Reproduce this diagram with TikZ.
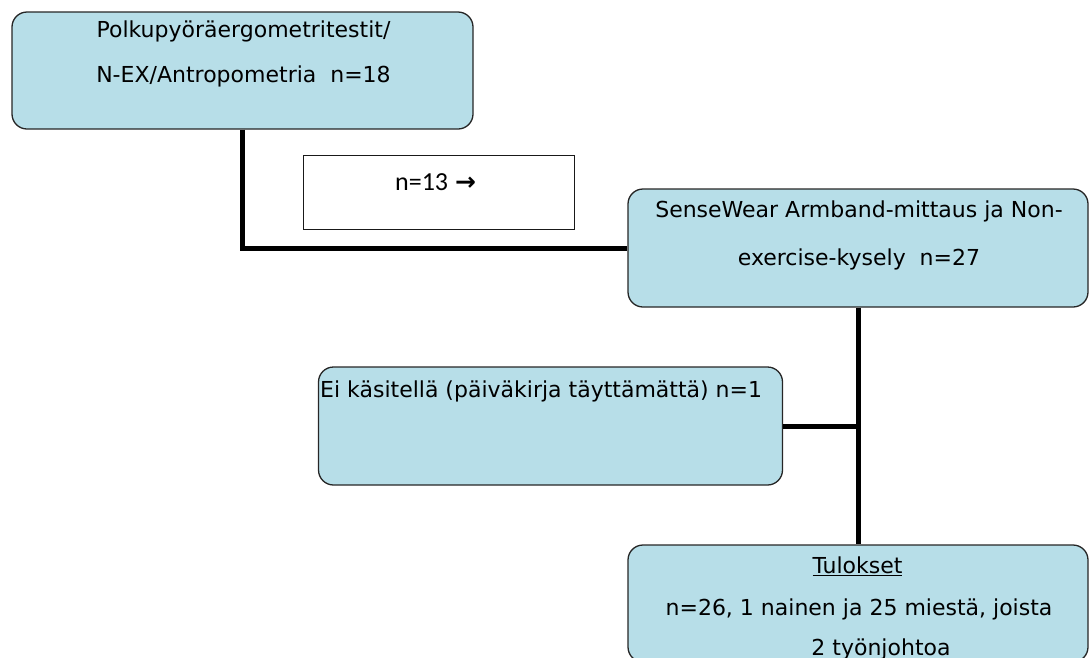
\documentclass[tikz,border=0pt]{standalone}
\usepackage{fontspec}
\setmainfont{DejaVu Sans}
\newfontfamily\calib{Carlito}
\newfontfamily\arrowfont{DejaVu Sans}
\usetikzlibrary{calc}
\definecolor{boxblue}{HTML}{B7DEE8}
\tikzset{
	flowbox/.style={draw=black!85, line width=1.3pt, fill=boxblue, rounded corners=15pt, inner sep=0pt},
	plainbox/.style={draw=black!90, line width=1pt, fill=white, inner sep=0pt},
	joint/.style={line width=5pt},
	txt/.style={anchor=base, inner sep=0pt, font=\fontsize{22}{26}\selectfont},
}

\begin{document}
\begin{tikzpicture}[x=1pt, y=-1pt]
	\useasboundingbox (0,0) rectangle (1089,657);
	\clip (0,0) rectangle (1089,657);

	% boxes
	\node[flowbox, minimum width=461pt, minimum height=117pt] (polku) at (242.5,70.5) {};
	\node[plainbox, minimum width=271pt, minimum height=74pt] (lkm) at (438.5,192) {};
	\node[flowbox, minimum width=460pt, minimum height=118pt] (sense) at (858,248) {};
	\node[flowbox, minimum width=464pt, minimum height=118pt] (eik) at (550.5,426) {};
	\node[flowbox, minimum width=460pt, minimum height=117pt] (tulos) at (858,603.5) {};

	% connectors
	\draw[joint] (polku.south) -- (polku.south |- sense.west) -- (sense.west);
	\draw[joint] (sense.south) -- (tulos.north);
	\draw[joint] (eik.east) -- (eik.east -| sense.south);

	% texts
	\node[txt] (polku1) at (243.5,37.7) {Polkupyöräergometritestit/};
	\node[txt] (polku2) at (243.5,82.7) {N-EX/Antropometria\ \ n=18};
	\node[txt, anchor=base west, font=\calib\fontsize{26}{28}\selectfont] (lkmtxt) at (395,190) {n=13\hspace{7pt}{\arrowfont\bfseries\fontsize{25}{28}\selectfont →}};
	\node[txt] (sense1) at (859,217) {SenseWear Armband-mittaus ja Non-};
	\node[txt] (sense2) at (859,265) {exercise-kysely\ \ n=27};
	\node[txt, anchor=base west] (eiktxt) at (320,397) {Ei käsitellä (päiväkirja täyttämättä) n=1};
	\node[txt] (tulos1) at (857.5,573) {\underline{Tulokset}};
	\node[txt] (tulos2) at (859,615) {n=26, 1 nainen ja 25 miestä, joista};
	\node[txt] (tulos3) at (881,655) {2 työnjohtoa};
\end{tikzpicture}
\end{document}
